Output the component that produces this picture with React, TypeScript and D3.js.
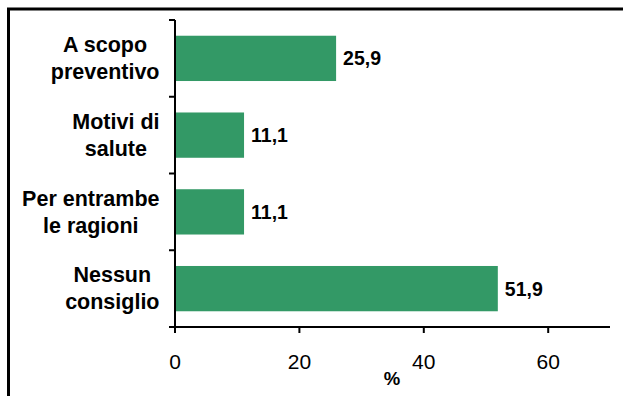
import React, { useEffect, useRef } from "react";
import * as d3 from "d3";

const categories: string[][] = [
  ["A scopo", "preventivo"],
  ["Motivi di", "salute"],
  ["Per entrambe", "le ragioni"],
  ["Nessun", "consiglio"],
];
const values: number[] = [25.9, 11.1, 11.1, 51.9];
const xTicks: number[] = [0, 20, 40, 60];
const axisTitle = "%";

const W = 623;
const H = 396;
const BAR = "#339966";
const FONT = "'Liberation Sans', Arial, sans-serif";

export default function App() {
  const ref = useRef<SVGSVGElement | null>(null);

  useEffect(() => {
    const svg = d3.select(ref.current);
    svg.selectAll("*").remove();

    // outer frame, running off the right and bottom edges
    svg.append("rect")
      .attr("x", 8.5).attr("y", 9).attr("width", 700).attr("height", 500)
      .attr("fill", "none").attr("stroke", "#000").attr("stroke-width", 3);

    const x = d3.scaleLinear().domain([0, 70]).range([175, 610.4]);
    const keys = categories.map((c) => c.join(" "));
    const y = d3.scaleBand<string>().domain(keys).range([20, 327])
      .paddingInner(0.41).paddingOuter(0.205);
    const step = y.step();

    const g = svg.append("g");

    // bars
    g.selectAll("rect.bar").data(values).enter().append("rect")
      .attr("class", "bar")
      .attr("x", x(0))
      .attr("y", (_d, i) => y(keys[i])!)
      .attr("width", (d) => x(d) - x(0))
      .attr("height", y.bandwidth())
      .attr("fill", BAR);

    // value labels
    g.selectAll("text.val").data(values).enter().append("text")
      .attr("class", "val")
      .attr("x", (d) => x(d) + 7)
      .attr("y", (_d, i) => y(keys[i])! + y.bandwidth() / 2)
      .attr("dy", "0.36em")
      .attr("font-family", FONT).attr("font-weight", "bold").attr("font-size", 19.5)
      .text((d) => d3.format(".1f")(d).replace(".", ","));

    // vertical axis
    g.append("line")
      .attr("x1", x(0)).attr("x2", x(0)).attr("y1", 20).attr("y2", 327)
      .attr("stroke", "#000").attr("stroke-width", 2);
    d3.range(categories.length + 1).forEach((i) => {
      g.append("line")
        .attr("x1", x(0) - 6).attr("x2", x(0))
        .attr("y1", 20 + i * step).attr("y2", 20 + i * step)
        .attr("stroke", "#000").attr("stroke-width", 2);
    });

    // category labels: two centred lines, block right edge near the axis
    categories.forEach((lines, i) => {
      const cy = y(keys[i])! + y.bandwidth() / 2;
      const t = g.append("text")
        .attr("font-family", FONT).attr("font-weight", "bold").attr("font-size", 21.5)
        .attr("text-anchor", "middle");
      const spans = lines.map((ln, j) =>
        t.append("tspan").attr("x", 0).attr("y", cy + (j - 0.5) * 27).attr("dy", "0.34em").text(ln)
      );
      const widest = Math.max(...spans.map((s) => (s.node() as SVGTSpanElement).getComputedTextLength()));
      const cx = 159.5 - widest / 2;
      spans.forEach((s) => s.attr("x", cx));
    });

    // horizontal axis
    g.append("line")
      .attr("x1", x(0)).attr("x2", 610).attr("y1", 327).attr("y2", 327)
      .attr("stroke", "#000").attr("stroke-width", 2);
    xTicks.forEach((v) => {
      g.append("line")
        .attr("x1", x(v)).attr("x2", x(v)).attr("y1", 327).attr("y2", 333)
        .attr("stroke", "#000").attr("stroke-width", 2);
      g.append("text")
        .attr("x", x(v)).attr("y", 369)
        .attr("text-anchor", "middle")
        .attr("font-family", FONT).attr("font-size", 21)
        .text(String(v));
    });

    g.append("text")
      .attr("x", 392).attr("y", 385)
      .attr("text-anchor", "middle")
      .attr("font-family", FONT).attr("font-weight", "bold").attr("font-size", 18.5)
      .text(axisTitle);
  }, []);

  return (
    <svg
      ref={ref}
      width={W}
      height={H}
      style={{ position: "absolute", left: 0, top: 0, background: "#fff" }}
    />
  );
}
